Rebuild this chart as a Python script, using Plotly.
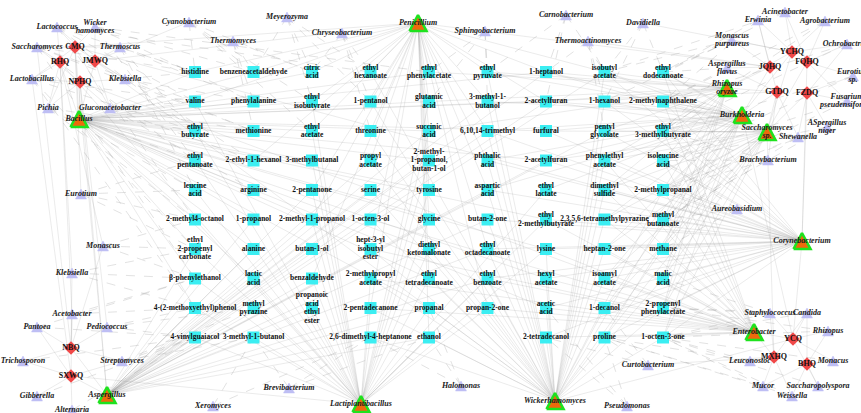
import plotly.graph_objects as go

# ---------------- nodes ----------------
# Metabolites, laid out row by row on a 9-column grid (None = empty cell)
METABOLITES = [
    "histidine", "benzeneacetaldehyde", "citric<br>acid", "ethyl<br>hexanoate", "ethyl<br>phenylacetate",
    "ethyl<br>pyruvate", "1-heptanol", "isobutyl<br>acetate", "ethyl<br>dodecanoate",
    "valine", "phenylalanine", "ethyl<br>isobutyrate", "1-pentanol", "glutamic<br>acid",
    "3-methyl-1-<br>butanol", "2-acetylfuran", "1-hexanol", "2-methylnaphthalene",
    "ethyl<br>butyrate", "methionine", "ethyl<br>acetate", "threonine", "succinic<br>acid",
    "6,10,14-trimethyl", "furfural", "pentyl<br>glycolate", "ethyl<br>3-methylbutyrate",
    "ethyl<br>pentanoate", "2-ethyl-1-hexanol", "3-methylbutanal", "propyl<br>acetate",
    "2-methyl-<br>1-propanol,<br>butan-1-ol", "phthalic<br>acid", "2-acetylfuran", "phenylethyl<br>acetate",
    "isoleucine<br>acid",
    "leucine<br>acid", "arginine", "2-pentanone", "serine", "tyrosine", "aspartic<br>acid",
    "ethyl<br>lactate", "dimethyl<br>sulfide", "2-methylpropanal",
    "2-methyl4-octanol", "1-propanol", "2-methyl-1-propanol", "1-octen-3-ol", "glycine",
    "butan-2-one", "ethyl<br>2-methylbutyrate", "2,3,5,6-tetramethylpyrazine", "methyl<br>butanoate",
    "ethyl<br>2-propenyl<br>carbonate", "alanine", "butan-1-ol", "hept-3-yl<br>isobutyl<br>ester",
    "diethyl<br>ketomalonate", "ethyl<br>octadecanoate", "lysine", "heptan-2-one", "methane",
    "β-phenylethanol", "lactic<br>acid", "benzaldehyde", "2-methylpropyl<br>acetate",
    "ethyl<br>tetradecanoate", "ethyl<br>benzoate", "hexyl<br>acetate", "isoamyl<br>acetate", "malic<br>acid",
    "4-(2-methoxyethyl)phenol", "methyl<br>pyrazine", "propanoic<br>acid<br>ethyl<br>ester",
    "2-pentadecanone", "propanal", "propan-2-one", "acetic<br>acid", "1-decanol",
    "2-propenyl<br>phenylacetate",
    "4-vinylguaiacol", "3-methyl-1-butanol", None, "2,6-dimethyl-4-heptanone", "ethanol", None,
    "2-tetradecanol", "proline", "1-octen-3-one",
]

# Core (hub) taxa
HUB_TAXA = ["Penicillium", "Bacillus", "Rhizopus oryzae", "Burkholderia", "Saccharomyces sp.",
            "Corynebacterium", "Enterobacter", "Wickerhamomyces", "Lactiplantibacillus", "Aspergillus"]

# Samples
SAMPLES = ["CMQ", "RHQ", "JMWQ", "NPHQ", "YCHQ", "FQHQ", "JQHQ", "GTDQ", "FZDQ",
           "NBQ", "SXWQ", "YCQ", "MXHQ", "BHQ"]

# Labels drawn on two lines
TWO_LINE = {"Wicker hamomyces", "Monascus purpureus", "Aspergillus flavus", "Eurotium sp.",
            "Rhizopus oryzae", "Fusarium pseudensiformis", "Saccharomyces sp.", "ASpergillus niger"}

# ---------------- edges ----------------
# hub taxon -> metabolite indices
HUB_LINKS = {
    "Penicillium": [0, 1, 2, 3, 4, 5, 6, 7, 9, 11, 12, 13, 14, 15, 20, 21, 22, 23, 28, 30, 31, 32,
                    38, 40, 41, 47, 49, 57, 59, 65, 67, 75, 77, 85],
    "Bacillus": [0, 1, 9, 10, 18, 19, 27, 28, 29, 36, 37, 45, 46, 47, 54, 55, 63, 64, 72, 2, 11, 20,
                 31, 40, 49, 58, 67, 76, 4, 13, 22, 6, 15, 24, 33, 51, 60, 69, 78],
    "Aspergillus": [72, 73, 81, 82, 63, 64, 54, 55, 65, 56, 46, 47, 38, 39, 30, 31, 22, 23, 14, 15,
                    6, 7, 74, 84, 85, 76, 68, 59, 50, 41, 33, 25],
    "Lactiplantibacillus": [81, 82, 84, 85, 72, 73, 74, 75, 76, 77, 63, 64, 65, 66, 67, 68, 54, 56,
                            58, 60, 45, 47, 49, 51, 36, 38, 40, 42, 27, 29, 31, 18, 20, 22, 9, 11, 13],
    "Wickerhamomyces": [84, 85, 87, 88, 89, 75, 76, 77, 78, 79, 80, 66, 67, 68, 69, 70, 71, 57, 58,
                        59, 60, 61, 62, 48, 50, 52, 53, 39, 41, 43, 44, 30, 32, 34, 21, 23, 25, 12,
                        14, 16, 3, 5, 7],
    "Corynebacterium": [89, 88, 87, 80, 79, 78, 71, 70, 69, 62, 61, 60, 53, 52, 51, 44, 43, 42, 35,
                        34, 33, 26, 25, 24, 17, 16, 8, 7, 68, 59, 50, 41, 32, 23],
    "Enterobacter": [89, 88, 87, 80, 79, 78, 77, 71, 70, 69, 68, 62, 61, 60, 53, 52, 51, 44, 43, 35,
                     34, 26, 17, 8, 75, 66, 57, 48],
    "Burkholderia": [8, 7, 6, 17, 16, 15, 26, 25, 24, 35, 34, 33, 44, 43, 42, 53, 52, 62, 61, 71,
                     70, 80, 79, 89, 88, 5, 14, 23, 32, 41],
    "Rhizopus oryzae": [8, 7, 6, 5, 17, 16, 15, 26, 25, 35, 34, 44, 43, 53, 62, 71, 80, 4, 13, 22],
    "Saccharomyces sp.": [8, 17, 26, 35, 44, 53, 62, 71, 80, 89, 7, 16, 25, 34, 43, 52, 61, 70, 79,
                          88, 6, 15, 24, 33],
}

# other taxa -> metabolite indices
TAXON_LINKS = {
    "Lactococcus": [0, 9, 18, 45, 3], "Wicker hamomyces": [1, 10, 27, 4],
    "Cyanobacterium": [0, 1, 2, 11, 20], "Saccharomyces": [0, 9, 27, 63, 19],
    "Thermoscus": [0, 18, 36, 10], "Lactobacillus": [9, 18, 54, 72], "Klebsiella": [0, 10, 19, 28],
    "Pichia": [18, 27, 45, 36], "Gluconacetobacter": [9, 19, 28, 37], "Thermomyces": [1, 2, 10, 19],
    "Meyerozyma": [1, 2, 3, 11, 12], "Chryseobacterium": [2, 3, 12, 21],
    "Sphingobacterium": [4, 5, 13, 14], "Carnobacterium": [5, 6, 7, 15],
    "Thermoactinomyces": [6, 7, 16, 25], "Davidiella": [7, 8, 16], "Erwinia": [8, 17],
    "Acinetobacter": [7, 8], "Agrobacterium": [17, 26], "Monascus purpureus": [7, 8, 16],
    "Ochrobactrum": [17, 26], "Aspergillus flavus": [8, 17, 26], "Eurotium sp.": [26, 35],
    "Fusarium pseudensiformis": [35, 44], "ASpergillus niger": [35, 44, 53], "Shewanella": [44, 53],
    "Brachybacterium": [26, 35, 44, 53], "Aureobasidium": [44, 53, 62, 35],
    "Eurotium": [27, 36, 45, 54], "Monascus": [45, 54, 63], "Klebsiella#2": [54, 63, 72],
    "Acetobacter": [63, 72], "Pantoea": [63, 81], "Pediococcus": [72, 73, 81], "Trichosporon": [81],
    "Streptomyces": [73, 81, 82], "Gibberella": [81], "Alternaria": [81], "Xeromyces": [82, 84],
    "Brevibacterium": [82, 84, 85], "Halomonas": [76, 84, 85], "Pseudomonas": [78, 87, 88],
    "Curtobacterium": [79, 87, 88], "Staphylococcus": [71, 80, 89], "Candida": [80, 89],
    "Rhizopus": [80, 89], "Leuconostoc": [88, 89], "Monacus": [89], "Mucor": [88, 89],
    "Saccharopolyspora": [89], "Weissella": [88, 89],
}

# sample -> taxa
SAMPLE_LINKS = {
    "CMQ": ["Lactococcus", "Wicker hamomyces", "Saccharomyces", "Thermoscus", "Lactobacillus",
            "Klebsiella", "Pichia", "Bacillus", "Gluconacetobacter", "Penicillium", "Aspergillus",
            "Eurotium", "Corynebacterium"],
    "RHQ": ["Saccharomyces", "Lactococcus", "Lactobacillus", "Pichia", "Bacillus", "Monascus",
            "Acetobacter", "Klebsiella#2", "Lactiplantibacillus"],
    "JMWQ": ["Wicker hamomyces", "Thermoscus", "Klebsiella", "Bacillus", "Gluconacetobacter",
             "Lactococcus", "Penicillium", "Cyanobacterium", "Wickerhamomyces"],
    "NPHQ": ["Lactobacillus", "Klebsiella", "Pichia", "Bacillus", "Gluconacetobacter",
             "Saccharomyces", "Aspergillus", "Pediococcus", "Enterobacter"],
    "YCHQ": ["Erwinia", "Acinetobacter", "Agrobacterium", "Monascus purpureus", "Ochrobactrum",
             "Rhizopus oryzae", "Burkholderia", "Saccharomyces sp.", "Davidiella"],
    "FQHQ": ["Agrobacterium", "Ochrobactrum", "Eurotium sp.", "Acinetobacter",
             "Fusarium pseudensiformis", "Saccharomyces sp.", "Corynebacterium"],
    "JQHQ": ["Monascus purpureus", "Aspergillus flavus", "Erwinia", "Rhizopus oryzae",
             "Burkholderia", "Penicillium", "Thermoactinomyces"],
    "GTDQ": ["Aspergillus flavus", "Rhizopus oryzae", "Burkholderia", "Saccharomyces sp.",
             "Shewanella", "Brachybacterium", "Erwinia", "Bacillus"],
    "FZDQ": ["Fusarium pseudensiformis", "ASpergillus niger", "Eurotium sp.", "Shewanella",
             "Saccharomyces sp.", "Corynebacterium", "Ochrobactrum"],
    "NBQ": ["Acetobacter", "Pantoea", "Pediococcus", "Trichosporon", "Streptomyces", "Aspergillus",
            "Klebsiella#2", "Monascus", "Saccharomyces"],
    "SXWQ": ["Trichosporon", "Gibberella", "Alternaria", "Aspergillus", "Streptomyces", "Pantoea",
             "Acetobacter", "Lactiplantibacillus", "Lactobacillus"],
    "YCQ": ["Staphylococcus", "Candida", "Rhizopus", "Enterobacter", "Monacus", "Saccharopolyspora",
            "Corynebacterium", "Wickerhamomyces", "Burkholderia"],
    "MXHQ": ["Leuconostoc", "Enterobacter", "Mucor", "Weissella", "Staphylococcus",
             "Curtobacterium", "Candida", "Saccharomyces sp."],
    "BHQ": ["Monacus", "Saccharopolyspora", "Weissella", "Rhizopus", "Candida", "Mucor"],
}

# ---------------- layout (pixel canvas) ----------------
GRID_COLS, GRID_X0, GRID_DX, GRID_Y0, GRID_DY = 9, 195, 58.5, 72, 29.5

NODE_XY = {
    # taxa
    "Lactococcus": (57, 27), "Wicker hamomyces": (95, 27), "Cyanobacterium": (189, 22),
    "Saccharomyces": (37, 47), "Thermoscus": (120, 47), "Lactobacillus": (32, 79),
    "Klebsiella": (125, 79), "Pichia": (48, 108), "Gluconacetobacter": (110, 108),
    "Bacillus": (79, 119), "Thermomyces": (233, 41), "Meyerozyma": (287, 17),
    "Chryseobacterium": (342, 33), "Penicillium": (418, 23), "Sphingobacterium": (485, 31),
    "Carnobacterium": (566, 15), "Thermoactinomyces": (588, 41), "Davidiella": (643, 23),
    "Erwinia": (758, 20), "Acinetobacter": (785, 12), "Agrobacterium": (825, 21),
    "Monascus purpureus": (732, 40), "Ochrobactrum": (847, 44), "Aspergillus flavus": (727, 68),
    "Eurotium sp.": (853, 76), "Rhizopus oryzae": (727, 88), "Fusarium pseudensiformis": (847, 101),
    "Burkholderia": (742, 115), "Saccharomyces sp.": (767, 132), "ASpergillus niger": (827, 127),
    "Shewanella": (798, 137), "Brachybacterium": (768, 160), "Aureobasidium": (737, 209),
    "Corynebacterium": (802, 241), "Eurotium": (81, 194), "Monascus": (103, 246),
    "Klebsiella#2": (72, 273), "Acetobacter": (72, 314), "Pantoea": (37, 327),
    "Pediococcus": (107, 327), "Trichosporon": (23, 361), "Streptomyces": (122, 361),
    "Gibberella": (37, 396), "Aspergillus": (107, 395), "Alternaria": (72, 410),
    "Xeromyces": (213, 406), "Brevibacterium": (289, 388), "Lactiplantibacillus": (361, 404),
    "Halomonas": (461, 386), "Wickerhamomyces": (555, 401), "Pseudomonas": (627, 406),
    "Curtobacterium": (648, 365), "Staphylococcus": (770, 313), "Candida": (807, 313),
    "Enterobacter": (754, 332), "Rhizopus": (828, 331), "Leuconostoc": (750, 361),
    "Monacus": (833, 361), "Mucor": (763, 386), "Saccharopolyspora": (818, 386),
    "Weissella": (792, 396),
    # samples
    "CMQ": (75, 47), "RHQ": (60, 62), "JMWQ": (95, 61), "NPHQ": (80, 82), "YCHQ": (792, 52),
    "FQHQ": (807, 62), "JQHQ": (770, 67), "GTDQ": (777, 92), "FZDQ": (807, 93), "NBQ": (71, 348),
    "SXWQ": (71, 376), "YCQ": (793, 339), "MXHQ": (774, 357), "BHQ": (807, 364),
}

met_xy = {}
for i, name in enumerate(METABOLITES):
    if name is None:
        continue
    r, c = divmod(i, GRID_COLS)
    met_xy[i] = (GRID_X0 + c * GRID_DX, GRID_Y0 + r * GRID_DY)

OTHER_TAXA = list(TAXON_LINKS.keys())


def label_of(key):
    name = key.split("#")[0]
    return name.replace(" ", "<br>") if name in TWO_LINE else name


def segments(pairs):
    xs, ys = [], []
    for a, b in pairs:
        xs += [a[0], b[0], None]
        ys += [a[1], b[1], None]
    return xs, ys


def triangles(keys, half_w, h):
    xs, ys = [], []
    for k in keys:
        cx, cy = NODE_XY[k]
        xs += [cx - half_w, cx + half_w, cx, cx - half_w, None]
        ys += [cy + h / 2, cy + h / 2, cy - h / 2, cy + h / 2, None]
    return xs, ys


def text_lines(items, step=8.5):
    xs, ys, ts = [], [], []
    for text, (x, y) in items:
        parts = text.split("<br>")
        n = len(parts)
        for k, p in enumerate(parts):
            xs.append(x)
            ys.append(y + (k - (n - 1) / 2) * step)
            ts.append(p)
    return xs, ys, ts


solid_pairs = [(NODE_XY[h], met_xy[m]) for h, ms in HUB_LINKS.items() for m in ms]
solid_pairs += [(NODE_XY[s], NODE_XY[t]) for s, ts in SAMPLE_LINKS.items() for t in ts]
dashed_pairs = [(NODE_XY[t], met_xy[m]) for t, ms in TAXON_LINKS.items() for m in ms]

fig = go.Figure()

ex, ey = segments(dashed_pairs)
fig.add_trace(go.Scatter(x=ex, y=ey, mode="lines", hoverinfo="skip",
                         line=dict(color="rgba(150,150,150,0.40)", width=0.7, dash="dash")))
ex, ey = segments(solid_pairs)
fig.add_trace(go.Scatter(x=ex, y=ey, mode="lines", hoverinfo="skip",
                         line=dict(color="rgba(150,150,150,0.32)", width=0.6)))

# metabolite squares
mk = sorted(met_xy)
fig.add_trace(go.Scatter(x=[met_xy[i][0] for i in mk], y=[met_xy[i][1] for i in mk],
                         mode="markers", hoverinfo="skip",
                         marker=dict(symbol="square", size=12, color="#3BEEF2", line=dict(width=0))))

# small taxa triangles
tx, ty = triangles(OTHER_TAXA, 5.5, 10)
fig.add_trace(go.Scatter(x=tx, y=ty, mode="lines", fill="toself", fillcolor="#BEBEF4",
                         line=dict(color="#BEBEF4", width=0.5), hoverinfo="skip"))

# hub taxa triangles
tx, ty = triangles(HUB_TAXA, 8.5, 16)
fig.add_trace(go.Scatter(x=tx, y=ty, mode="lines", fill="toself", fillcolor="#EE6A0C",
                         line=dict(color="#1EE21E", width=2.6), hoverinfo="skip"))

# sample diamonds
fig.add_trace(go.Scatter(x=[NODE_XY[s][0] for s in SAMPLES], y=[NODE_XY[s][1] for s in SAMPLES],
                         mode="markers", hoverinfo="skip",
                         marker=dict(symbol="diamond", size=10.5, color="#F04848", line=dict(width=0))))

# labels
FONT = "Liberation Serif, Times New Roman, serif"
lx, ly, lt = text_lines([(METABOLITES[i], met_xy[i]) for i in mk])
fig.add_trace(go.Scatter(x=lx, y=ly, text=lt, mode="text", hoverinfo="skip", cliponaxis=False,
                         textposition="middle center",
                         textfont=dict(family=FONT, size=7.5, color="#111111", weight="bold")))

lx, ly, lt = text_lines([(label_of(k), NODE_XY[k]) for k in OTHER_TAXA + HUB_TAXA])
fig.add_trace(go.Scatter(x=lx, y=ly, text=lt, mode="text", hoverinfo="skip", cliponaxis=False,
                         textposition="middle center",
                         textfont=dict(family=FONT, size=8, color="#1a1a1a", weight="bold",
                                       style="italic")))

lx, ly, lt = text_lines([(s, NODE_XY[s]) for s in SAMPLES])
fig.add_trace(go.Scatter(x=lx, y=ly, text=lt, mode="text", hoverinfo="skip", cliponaxis=False,
                         textposition="middle center",
                         textfont=dict(family=FONT, size=8, color="#111111", weight="bold")))

fig.update_layout(
    width=861, height=413, autosize=False,
    margin=dict(l=0, r=0, t=0, b=0),
    paper_bgcolor="white", plot_bgcolor="white", showlegend=False,
    xaxis=dict(range=[0, 861], visible=False, fixedrange=True),
    yaxis=dict(range=[413, 0], visible=False, fixedrange=True),
)

fig.write_html("out.html", config={"displayModeBar": False},
               post_script="document.body.style.margin='0';")
